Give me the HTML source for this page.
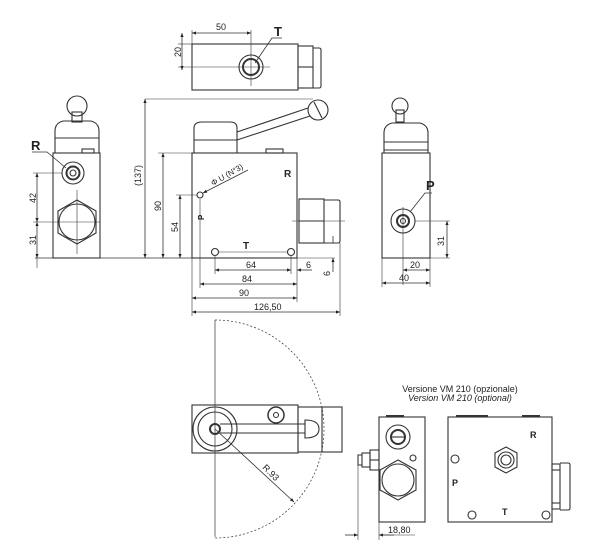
<!DOCTYPE html>
<html><head><style>
html,body{margin:0;padding:0;background:#fff;}
svg{display:block;}
text{font-family:"Liberation Sans",sans-serif;fill:#222;}
</style></head><body>
<svg width="600" height="560" viewBox="0 0 600 560" xmlns="http://www.w3.org/2000/svg">
<defs>
<marker id="a" viewBox="0 0 10 10" refX="10" refY="5" markerWidth="7" markerHeight="5" orient="auto-start-reverse"><path d="M0,1 L10,5 L0,9 z" fill="#222"/></marker>
</defs>
<g fill="none" stroke="#333" stroke-width="1.1">
<!-- TOP VIEW -->
<rect x="192" y="44" width="106" height="46"/>
<rect x="298" y="46" width="15" height="42"/>
<line x1="298" y1="67" x2="313" y2="67"/>
<path d="M313,48 h6 q2,0 2,2 v36 q0,2 -2,2 h-6"/>
<circle cx="251" cy="67" r="12"/>
<circle cx="251" cy="67" r="8" stroke-width="2"/>
<line x1="232" y1="67" x2="270" y2="67" stroke-width="0.6"/>
<line x1="251" y1="30" x2="251" y2="86" stroke-width="0.6"/>
<line x1="192" y1="30" x2="192" y2="44" stroke-width="0.6"/>
<line x1="192" y1="33" x2="251" y2="33" marker-start="url(#a)" marker-end="url(#a)" stroke-width="0.8"/>
<line x1="182" y1="33" x2="182" y2="70" marker-start="url(#a)" marker-end="url(#a)" stroke-width="0.8"/>
<line x1="178" y1="44" x2="192" y2="44" stroke-width="0.6"/>
<line x1="178" y1="67" x2="232" y2="67" stroke-width="0.6"/>
<polyline points="255,63 272,38 282,38" stroke-width="0.8"/>

<!-- FRONT VIEW -->
<rect x="192" y="153" width="105" height="105"/>
<path d="M194,153 v-25 q0,-6 8,-6 h28 q7,0 7,6 v25"/>
<line x1="194" y1="140" x2="237" y2="140"/>
<path d="M237,132 L308,108 M237,140 L310,116"/>
<circle cx="318" cy="110" r="10"/>
<line x1="314" y1="102" x2="322" y2="118"/>
<rect x="266" y="149" width="17" height="4"/>
<rect x="299" y="199" width="25" height="44"/>
<line x1="299" y1="221" x2="324" y2="221"/>
<path d="M324,200 h14 q2,0 2,2 v39 q0,2 -2,2 h-14"/>
<line x1="292" y1="221" x2="345" y2="221" stroke-width="0.6"/>
<circle cx="200" cy="195" r="3"/>
<circle cx="215" cy="252" r="3.5"/>
<circle cx="291" cy="252" r="3.5"/>
<line x1="219" y1="252" x2="287" y2="252" stroke-width="0.6"/>
<line x1="145" y1="99" x2="313" y2="99" stroke-width="0.6"/>
<line x1="35" y1="258" x2="192" y2="258" stroke-width="0.8"/>
<line x1="297" y1="258" x2="335" y2="258" stroke-width="0.6"/>
<line x1="145" y1="99" x2="145" y2="258" marker-start="url(#a)" marker-end="url(#a)" stroke-width="0.8"/>
<line x1="158" y1="153" x2="192" y2="153" stroke-width="0.6"/>
<line x1="163" y1="153" x2="163" y2="258" marker-start="url(#a)" marker-end="url(#a)" stroke-width="0.8"/>
<line x1="176" y1="195" x2="197" y2="195" stroke-width="0.6"/>
<line x1="180" y1="195" x2="180" y2="258" marker-start="url(#a)" marker-end="url(#a)" stroke-width="0.8"/>
<line x1="200" y1="199" x2="200" y2="288" stroke-width="0.6"/>
<line x1="215" y1="256" x2="215" y2="274" stroke-width="0.6"/>
<line x1="291" y1="256" x2="291" y2="274" stroke-width="0.6"/>
<line x1="215" y1="270" x2="291" y2="270" marker-start="url(#a)" marker-end="url(#a)" stroke-width="0.8"/>
<line x1="297" y1="258" x2="297" y2="302" stroke-width="0.6"/>
<line x1="192" y1="258" x2="192" y2="316" stroke-width="0.6"/>
<line x1="340" y1="243" x2="340" y2="316" stroke-width="0.6"/>
<line x1="312" y1="270" x2="297" y2="270" marker-end="url(#a)" stroke-width="0.8"/>
<line x1="333" y1="272" x2="333" y2="258" marker-end="url(#a)" stroke-width="0.8"/>
<line x1="333" y1="236" x2="333" y2="243" stroke-width="0.8"/>
<line x1="200" y1="284" x2="297" y2="284" marker-start="url(#a)" marker-end="url(#a)" stroke-width="0.8"/>
<line x1="192" y1="298" x2="297" y2="298" marker-start="url(#a)" marker-end="url(#a)" stroke-width="0.8"/>
<line x1="192" y1="312" x2="340" y2="312" marker-start="url(#a)" marker-end="url(#a)" stroke-width="0.8"/>
<line x1="248" y1="170" x2="203" y2="193" marker-end="url(#a)" stroke-width="0.8"/>

<!-- LEFT SIDE VIEW -->
<rect x="53" y="153" width="47" height="105"/>
<path d="M55,153 v-22 q0,-8 8,-10 h28 q8,2 8,10 v22"/>
<line x1="55" y1="138" x2="99" y2="138"/>
<rect x="72" y="112" width="10" height="10"/>
<circle cx="77" cy="106" r="10"/>
<rect x="82" y="149" width="12" height="4"/>
<circle cx="73" cy="173" r="11"/>
<circle cx="73" cy="173" r="6.5" stroke-width="2"/>
<circle cx="73" cy="173" r="3"/>
<polygon points="77,200 96,211 96,233 77,244 58,233 58,211"/>
<circle cx="77" cy="222" r="18"/>
<line x1="33" y1="222" x2="100" y2="222" stroke-width="0.6"/>
<line x1="33" y1="173" x2="62" y2="173" stroke-width="0.6"/>
<line x1="77" y1="190" x2="77" y2="254" stroke-width="0.6"/>
<line x1="37" y1="173" x2="37" y2="222" marker-start="url(#a)" marker-end="url(#a)" stroke-width="0.8"/>
<line x1="37" y1="222" x2="37" y2="258" marker-start="url(#a)" marker-end="url(#a)" stroke-width="0.8"/>
<line x1="37" y1="258" x2="37" y2="268" stroke-width="0.6"/>
<polyline points="32,152 47,152 66,168" stroke-width="0.8"/>

<!-- RIGHT SIDE VIEW -->
<rect x="382" y="153" width="48" height="105"/>
<path d="M384,153 v-20 q0,-8 8,-10 h28 q8,2 8,10 v20"/>
<line x1="384" y1="142" x2="428" y2="142"/>
<line x1="384" y1="150" x2="428" y2="150"/>
<rect x="396" y="110" width="8" height="12"/>
<circle cx="400" cy="106" r="8"/>
<circle cx="403" cy="221" r="12"/>
<circle cx="403" cy="221" r="6" stroke-width="2"/>
<circle cx="403" cy="221" r="2.5"/>
<polyline points="410,212 425,193 432,193" stroke-width="0.8"/>
<line x1="403" y1="207" x2="403" y2="285" stroke-width="0.6"/>
<line x1="415" y1="221" x2="450" y2="221" stroke-width="0.6"/>
<line x1="430" y1="258" x2="450" y2="258" stroke-width="0.6"/>
<line x1="447" y1="221" x2="447" y2="258" marker-start="url(#a)" marker-end="url(#a)" stroke-width="0.8"/>
<line x1="382" y1="258" x2="382" y2="287" stroke-width="0.6"/>
<line x1="430" y1="258" x2="430" y2="287" stroke-width="0.6"/>
<line x1="403" y1="270" x2="430" y2="270" marker-start="url(#a)" marker-end="url(#a)" stroke-width="0.8"/>
<line x1="382" y1="283" x2="430" y2="283" marker-start="url(#a)" marker-end="url(#a)" stroke-width="0.8"/>

<!-- BOTTOM VIEW -->
<line x1="215" y1="320" x2="215" y2="537" stroke-width="0.7"/>
<path d="M215,320 A109,109 0 0 1 215,538" stroke-dasharray="2,2" stroke-width="0.7"/>
<rect x="192" y="405" width="106" height="48"/>
<rect x="298" y="407" width="44" height="45"/>
<line x1="322" y1="407" x2="322" y2="452"/>
<circle cx="215" cy="429" r="22"/>
<circle cx="215" cy="429" r="17"/>
<circle cx="215" cy="429" r="5" stroke-width="2"/>
<path d="M220,424 H305 M220,433 H305"/>
<path d="M305,420 q14,0 14,9 q0,9 -14,9 z"/>
<circle cx="276" cy="415" r="8" stroke-width="1.5"/>
<circle cx="276" cy="415" r="2.5"/>
<line x1="215" y1="429" x2="294" y2="502" marker-end="url(#a)" stroke-width="0.8"/>

<!-- SMALL SIDE VIEW -->
<rect x="379" y="417" width="46" height="105"/>
<line x1="386" y1="416" x2="404" y2="416" stroke-width="2"/>
<circle cx="398" cy="437" r="12"/>
<circle cx="398" cy="437" r="7" stroke-width="2"/>
<line x1="392" y1="437" x2="404" y2="437"/>
<circle cx="413" cy="458" r="3"/>
<polygon points="398,460 416,470 416,490 398,500 380,490 380,470"/>
<circle cx="398" cy="480" r="16"/>
<rect x="370" y="450" width="9" height="20"/>
<line x1="370" y1="460" x2="379" y2="460"/>
<rect x="362" y="453" width="8" height="14"/>
<path d="M362,455 h-4 v10 h4"/>
<line x1="358" y1="465" x2="358" y2="540" stroke-width="0.6"/>
<line x1="379" y1="522" x2="379" y2="540" stroke-width="0.6"/>
<line x1="345" y1="535" x2="358" y2="535" marker-end="url(#a)" stroke-width="0.8"/>
<line x1="394" y1="535" x2="379" y2="535" marker-end="url(#a)" stroke-width="0.8"/>
<line x1="379" y1="535" x2="415" y2="535" stroke-width="0.6"/>

<!-- TOP PLATE VIEW -->
<rect x="448" y="417" width="104" height="105"/>
<line x1="456" y1="416" x2="488" y2="416" stroke-width="2"/>
<line x1="522" y1="416" x2="540" y2="416" stroke-width="2"/>
<polygon points="506,447 517,453 517,467 506,473 495,467 495,453"/>
<circle cx="506" cy="460" r="8"/>
<circle cx="506" cy="460" r="5"/>
<circle cx="455" cy="459" r="4"/>
<circle cx="472" cy="515" r="4"/>
<circle cx="546" cy="515" r="4"/>
<rect x="552" y="464" width="8" height="45"/>
<path d="M560,463 h8 q2,0 2,2 v43 q0,2 -2,2 h-8"/>
<line x1="552" y1="470" x2="560" y2="470"/>
<line x1="552" y1="503" x2="560" y2="503"/>
</g>
<g font-size="9">
<text x="216" y="30">50</text>
<text transform="translate(181,57) rotate(-90)">20</text>
<text x="274" y="36" font-size="13" font-weight="bold">T</text>
<text transform="translate(141,186) rotate(-90)">(137)</text>
<text transform="translate(161,211) rotate(-90)">90</text>
<text transform="translate(178,232) rotate(-90)">54</text>
<text transform="translate(204,220) rotate(-90)" font-size="8" font-weight="bold">P</text>
<text transform="translate(213,186) rotate(-30)" font-size="8">Φ U (N°3)</text>
<text x="284" y="177" font-size="10" font-weight="bold">R</text>
<text x="243" y="249" font-size="10" font-weight="bold">T</text>
<text x="246" y="268">64</text>
<text x="306" y="268">6</text>
<text transform="translate(330,276) rotate(-90)">6</text>
<text x="242" y="282">84</text>
<text x="239" y="296">90</text>
<text x="254" y="310">126,50</text>
<text x="31" y="150" font-size="13" font-weight="bold">R</text>
<text transform="translate(36,203) rotate(-90)">42</text>
<text transform="translate(36,245) rotate(-90)">31</text>
<text x="426" y="190" font-size="13" font-weight="bold">P</text>
<text transform="translate(444,246) rotate(-90)">31</text>
<text x="410" y="268">20</text>
<text x="399" y="281">40</text>
<text transform="translate(262,468) rotate(45)" font-size="9">R.93</text>
<text x="460" y="392" font-size="9" text-anchor="middle">Versione VM 210 (opzionale)</text>
<text x="460" y="401" font-size="9" text-anchor="middle" font-style="italic">Version VM 210 (optional)</text>
<text x="388" y="533">18,80</text>
<text x="530" y="438" font-size="9" font-weight="bold">R</text>
<text x="452" y="486" font-size="9" font-weight="bold">P</text>
<text x="502" y="515" font-size="9" font-weight="bold">T</text>
</g>
</svg>
</body></html>
